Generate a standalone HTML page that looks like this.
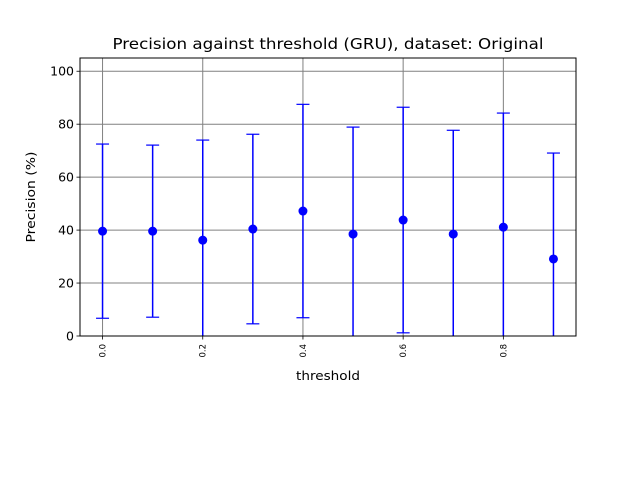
<!DOCTYPE html>
<html><head><meta charset="utf-8"><style>
html,body{margin:0;padding:0;background:#fff;}
svg{display:block;font-family:"DejaVu Sans","Liberation Sans",sans-serif;}
</style></head><body>
<svg id="chart" width="640" height="480" viewBox="0 0 640 480">
<rect x="0" y="0" width="640" height="480" fill="#fff"/>
<defs><clipPath id="plotclip"><rect x="80" y="58" width="496" height="278"/></clipPath></defs>
<g id="grid"></g>
<g id="marks" clip-path="url(#plotclip)"></g>
<rect x="80" y="58" width="496" height="278" fill="none" stroke="#000" stroke-width="1"/>
<g id="axes"></g>
<text x="328" y="49" text-anchor="middle" font-size="15" textLength="431" lengthAdjust="spacingAndGlyphs">Precision against threshold (GRU), dataset: Original</text>
<text x="328" y="380" text-anchor="middle" font-size="12.5" textLength="64" lengthAdjust="spacingAndGlyphs">threshold</text>
<text transform="translate(35,197) rotate(-90)" text-anchor="middle" font-size="12.5" textLength="91" lengthAdjust="spacingAndGlyphs">Precision (%)</text>
</svg>
<script>
const xs = [0.0,0.1,0.2,0.3,0.4,0.5,0.6,0.7,0.8,0.9];
const means = [39.6,39.6,36.2,40.4,47.2,38.5,43.8,38.5,41.1,29.1];
const errs = [32.9,32.5,37.8,35.8,40.3,40.4,42.6,39.2,43.1,40.0];
const xTicks = [0.0,0.2,0.4,0.6,0.8];
const xTickLabels = ["0.0","0.2","0.4","0.6","0.8"];
const yTicks = [0,20,40,60,80,100];
const yTickLabels = ["0","20","40","60","80","100"];

const L=80,R=576,T=58,B=336;
const xMin=-0.045,xMax=0.945,yMin=0,yMax=105;
function sx(v){return L+(v-xMin)/(xMax-xMin)*(R-L);}
function sy(v){return B-(v-yMin)/(yMax-yMin)*(B-T);}
const NS="http://www.w3.org/2000/svg";
function mk(tag,attrs,parent){const e=document.createElementNS(NS,tag);for(const k in attrs)e.setAttribute(k,attrs[k]);parent.appendChild(e);return e;}
const grid=document.getElementById('grid'),marks=document.getElementById('marks'),axes=document.getElementById('axes');

xTicks.forEach((t,i)=>{
  const x=sx(t);
  const g=mk('line',{x1:x,x2:x,y1:T,y2:B,stroke:'#808080','stroke-width':1},grid);
  
  
  const tk=mk('line',{x1:x,x2:x,y1:B,y2:B+3.5,stroke:'#000','stroke-width':0.8},axes);
  
  
  const tx=mk('text',{transform:`translate(${x+3},${B+8}) rotate(-90)`,'text-anchor':'end','font-size':8.5},axes);
  tx.textContent=xTickLabels[i];
  
  
});
yTicks.forEach((t,i)=>{
  const y=sy(t);
  const g=mk('line',{x1:L,x2:R,y1:y,y2:y,stroke:'#808080','stroke-width':1},grid);
  
  
  const tk=mk('line',{x1:L-3.5,x2:L,y1:y,y2:y,stroke:'#000','stroke-width':0.8},axes);
  
  
  const tx=mk('text',{x:L-6,y:y+4.5,'text-anchor':'end','font-size':12.5},axes);
  tx.textContent=yTickLabels[i];
  
  
});
xs.forEach((v,i)=>{
  const x=sx(v),yt=sy(means[i]+errs[i]),yb=sy(means[i]-errs[i]),ym=sy(means[i]);
  const g=mk('g',{},marks);
  
  
  mk('line',{x1:x,x2:x,y1:yt,y2:yb,stroke:'#0000ff','stroke-width':1.5},g);
  mk('line',{x1:x-6.5,x2:x+6.5,y1:yt,y2:yt,stroke:'#0000ff','stroke-width':1.2},g);
  mk('line',{x1:x-6.5,x2:x+6.5,y1:yb,y2:yb,stroke:'#0000ff','stroke-width':1.2},g);
  const c=mk('circle',{cx:x,cy:ym,r:4.5,fill:'#0000ff'},g);
  
  
});
</script>
</body></html>
